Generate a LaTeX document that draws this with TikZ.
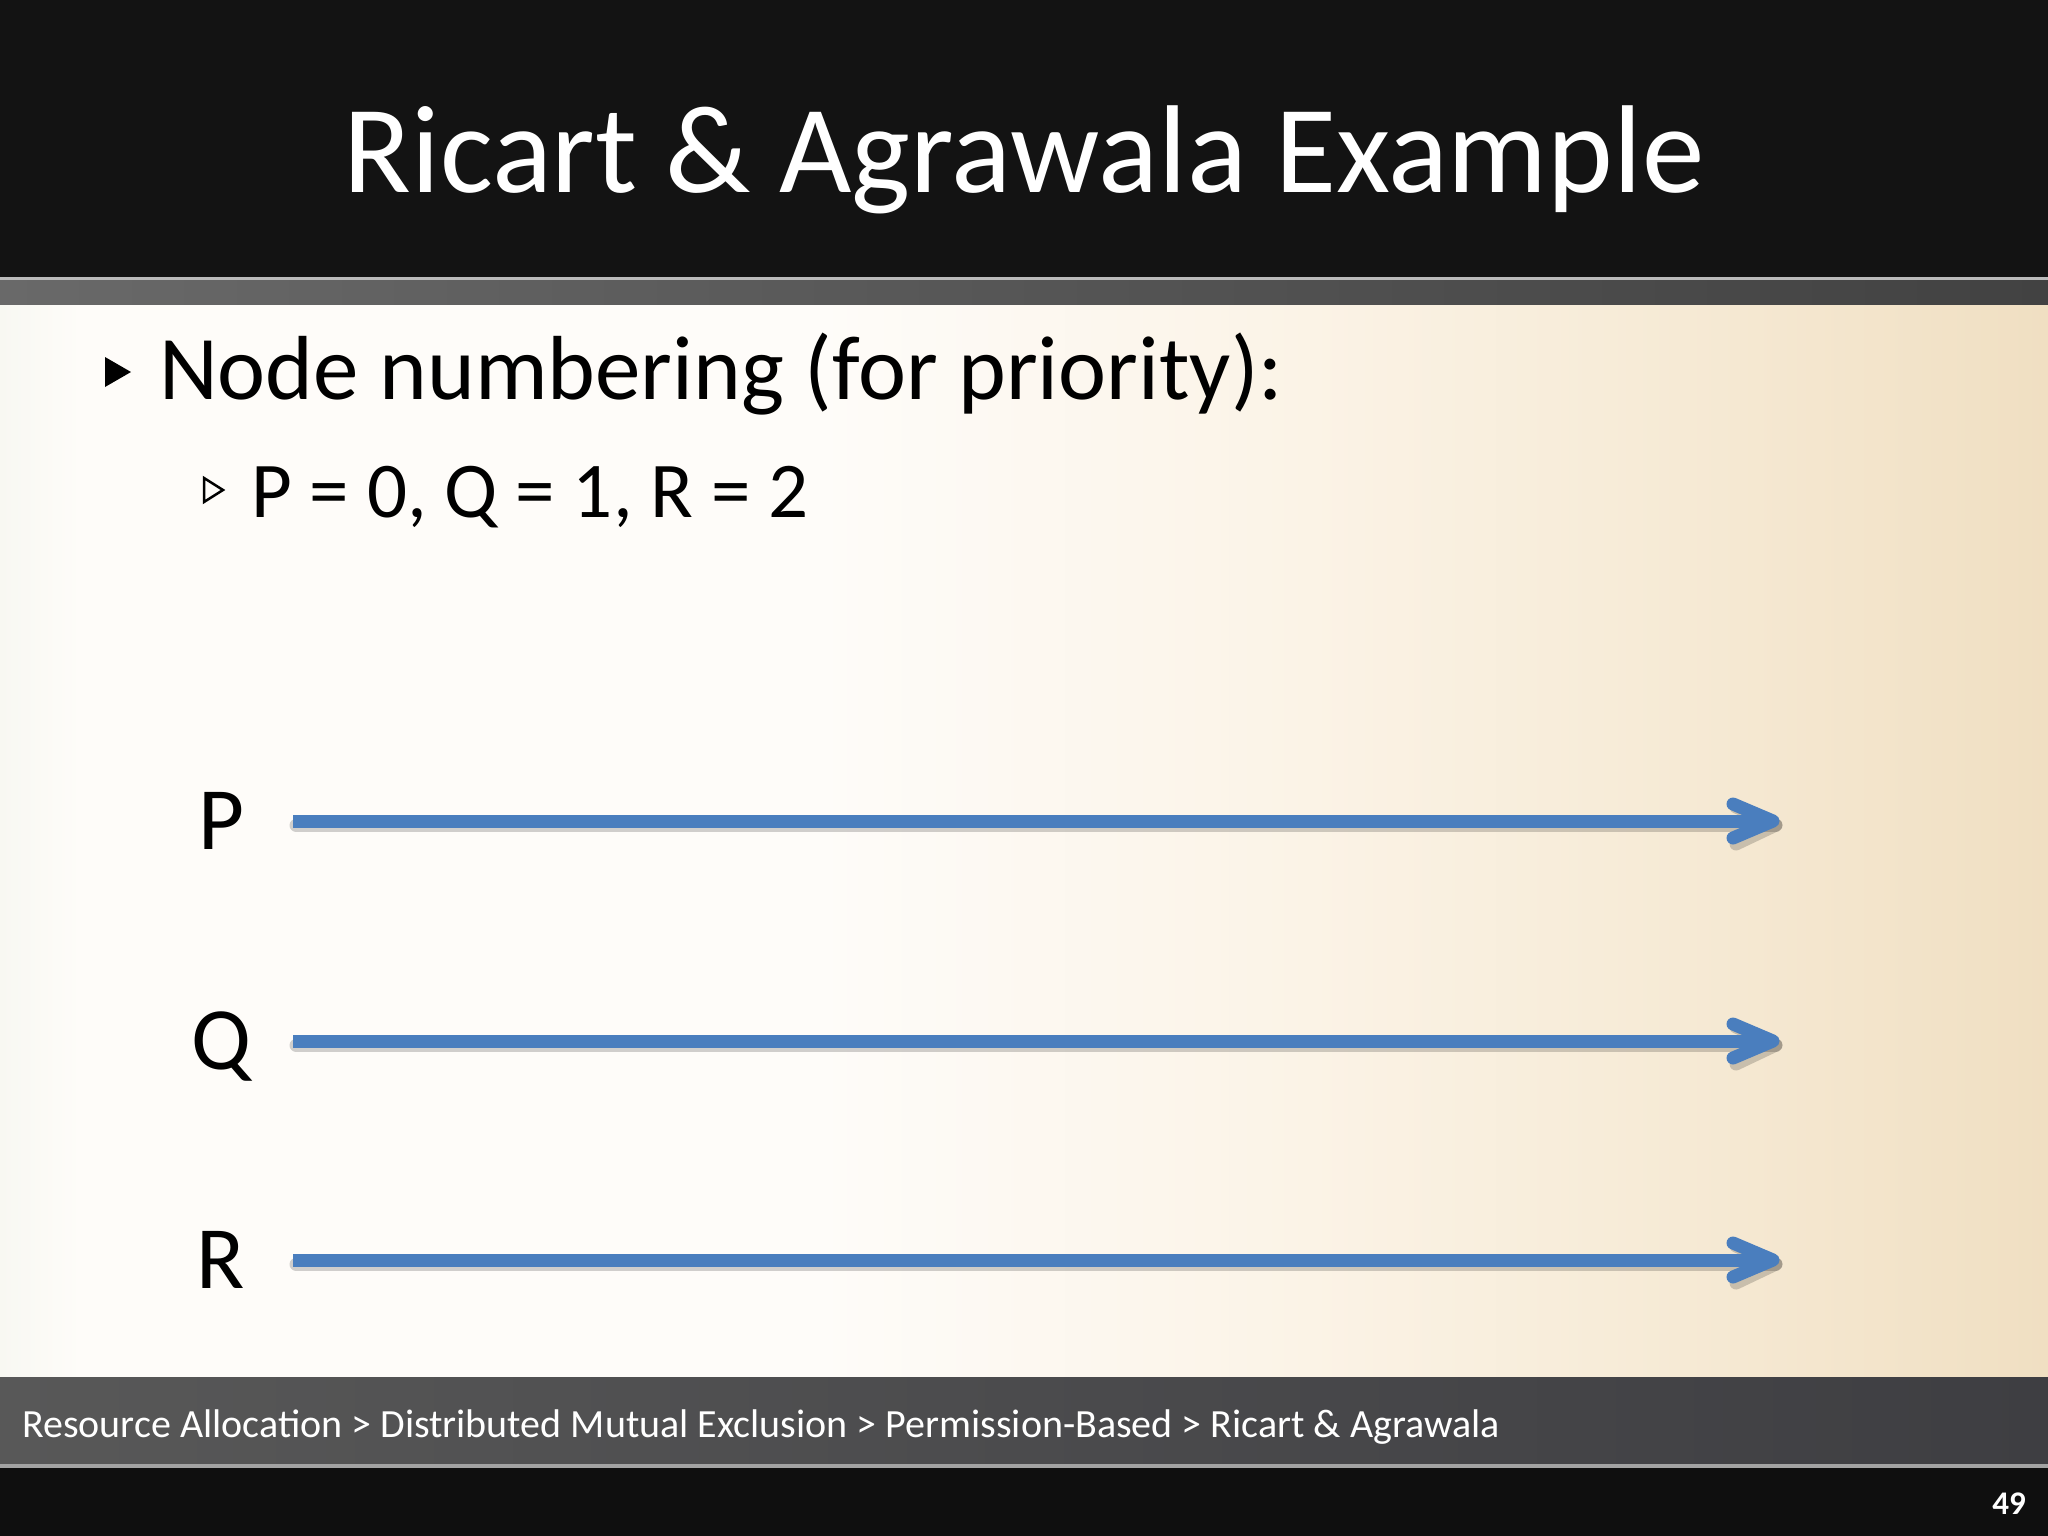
\documentclass[tikz,border=0pt]{standalone}
\usepackage{fontspec}
\setmainfont{Carlito}
\usetikzlibrary{calc,positioning}

\definecolor{bandblack}{RGB}{19,19,19}
\definecolor{stripgray}{RGB}{105,105,105}
\definecolor{stripdark}{RGB}{66,66,66}
\definecolor{footgray}{RGB}{88,88,88}
\definecolor{footdark}{RGB}{62,62,66}
\definecolor{paperleft}{RGB}{248,248,242}
\definecolor{paperwhite}{RGB}{254,252,249}
\definecolor{paperlight}{RGB}{251,243,230}
\definecolor{papertan}{RGB}{246,234,213}
\definecolor{paperright}{RGB}{240,223,194}
\definecolor{lineblue}{RGB}{74,126,190}
\pgfdeclarehorizontalshading{paper}{100bp}{color(0bp)=(paperleft); color(25bp)=(paperleft); color(27bp)=(paperwhite); color(45bp)=(paperwhite); color(57bp)=(paperlight); color(66bp)=(papertan); color(75bp)=(paperright); color(100bp)=(paperright)}

\begin{document}
\begin{tikzpicture}[
                x=1pt,y=-1pt,
                txt/.style={inner sep=0pt,anchor=base west},
                proc/.style={inner sep=0pt,anchor=base,font=\fontsize{89}{100}\selectfont},
                tline/.style={draw=lineblue,line width=13pt},
                thead/.style={tline,line cap=round,line join=round},
                tshadow/.style={draw=black,opacity=0.18,line width=13pt,line cap=round,line join=round}
            ]
                % background bands
                \useasboundingbox (0,0) rectangle (2048,1536);
                \fill[bandblack] (0,0) rectangle (2048,277);
                \shade[left color=stripgray,right color=stripdark] (0,277) rectangle (2048,305);
                \fill[white!55!stripgray] (0,277) rectangle (2048,280);
                \shade[shading=paper] (0,305) rectangle (2048,1377);
                \shade[left color=footgray,right color=footdark] (0,1377) rectangle (2048,1468);
                \fill[white!45!footgray] (0,1464) rectangle (2048,1468);
                \fill[bandblack!80!black] (0,1468) rectangle (2048,1536);

                \node (title) [inner sep=0pt,anchor=base,text=white,font=\fontsize{125}{140}\selectfont] at (1024,193) {Ricart \& Agrawala Example};

                % bullets
                \node (lvlone) [txt,font=\fontsize{91}{100}\selectfont] at (159,399) {Node numbering (for priority):};
                \fill ($(lvlone.base west)+(-54,-42)$) -- ($(lvlone.base west)+(-28,-27)$) -- ($(lvlone.base west)+(-54,-12)$) -- cycle;
                \node (lvltwo) [txt,font=\fontsize{79}{88}\selectfont] at (251,517) {P = 0, Q = 1, R = 2};
                \draw[line width=2.5pt,line join=miter] ($(lvltwo.base west)+(-47,-39)$) -- ($(lvltwo.base west)+(-28,-27)$) -- ($(lvltwo.base west)+(-47,-15)$) -- cycle;

                % processes
                \node (P) [proc] at (221,849) {P};
                \node (Q) [proc] at (221,1069) {Q};
                \node (R) [proc] at (221,1288) {R};
                \coordinate (P0) at (293,821);  \coordinate (P1) at (1773,821);
                \coordinate (Q0) at (293,1041); \coordinate (Q1) at (1773,1041);
                \coordinate (R0) at (293,1260); \coordinate (R1) at (1773,1260);

                \foreach \p in {P,Q,R}{
                    \draw[tshadow] ($(\p0)+(3,4)$) -- ($(\p1)+(3,4)$);
                    \draw[tshadow] ($(\p1)+(-37,-14)$) -- ($(\p1)+(3,4)$) -- ($(\p1)+(-37,23)$);
                    \draw[tline] (\p0) -- (\p1);
                    \draw[thead] ($(\p1)+(-40,-17)$) -- (\p1) -- ($(\p1)+(-40,17)$);
                }

                % footer
                \node (crumbs) [txt,text=white,font=\fontsize{40}{48}\selectfont] at (22,1437) {Resource Allocation > Distributed Mutual Exclusion > Permission-Based > Ricart \& Agrawala};
                \node (pageno) [inner sep=0pt,anchor=base,text=white,font=\fontsize{33}{40}\selectfont\bfseries] at (2009,1514) {49};
            \end{tikzpicture}
\end{document}
